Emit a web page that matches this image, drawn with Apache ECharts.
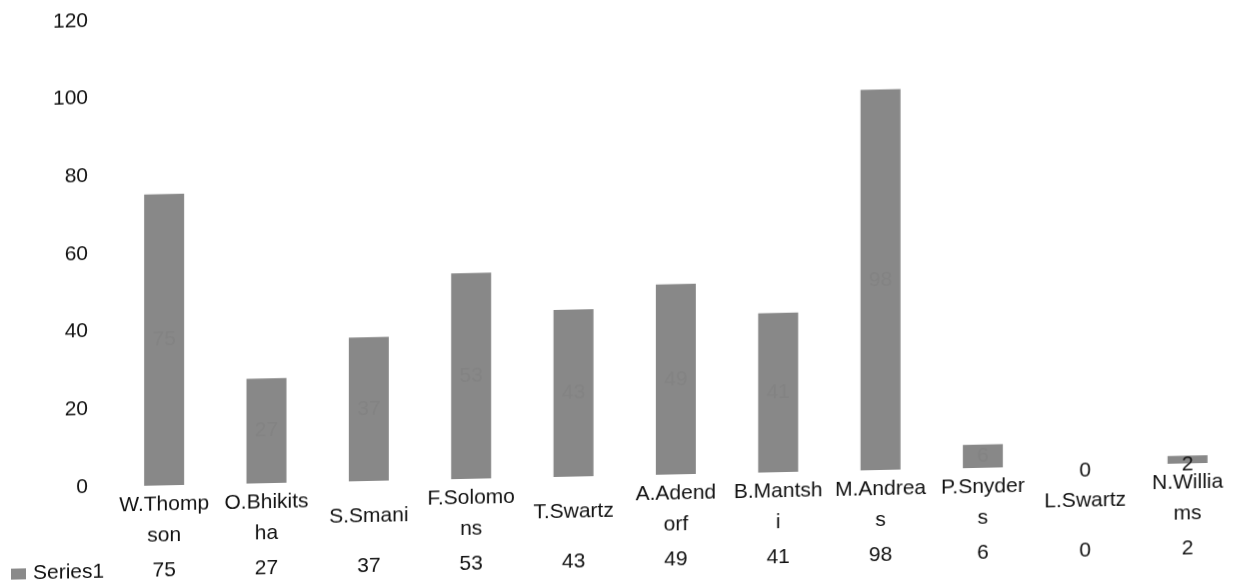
<!DOCTYPE html>
<html>
<head>
<meta charset="utf-8">
<script src="https://cdn.jsdelivr.net/npm/echarts@6/dist/echarts.min.js"></script>
<style>
  html, body { margin: 0; padding: 0; background: #ffffff; }
  #chart {
    width: 1239px; height: 584px;
    transform: skewY(-1.23deg);
    transform-origin: 88px 487px;
  }
</style>
</head>
<body>
<div id="chart"></div>
<script>
const categories = ['W.Thompson', 'O.Bhikitsha', 'S.Smani', 'F.Solomons', 'T.Swartz', 'A.Adendorf', 'B.Mantshi', 'M.Andreas', 'P.Snyders', 'L.Swartz', 'N.Williams'];
const tickLabels = ['W.Thomp\nson', 'O.Bhikits\nha', 'S.Smani', 'F.Solomo\nns', 'T.Swartz', 'A.Adend\norf', 'B.Mantsh\ni', 'M.Andrea\ns', 'P.Snyder\ns', 'L.Swartz', 'N.Willia\nms'];
const series1 = [75, 27, 37, 53, 43, 49, 41, 98, 6, 0, 2];
const seriesName = 'Series1';
const yMin = 0, yMax = 120, yStep = 20;

const FONT = "'Liberation Sans', Arial, sans-serif";
const TEXT = '#111111';
const BAR = '#888888';
const FS = 21;

const chart = echarts.init(document.getElementById('chart'), null, { renderer: 'canvas' });
chart.setOption({
  animation: false,
  backgroundColor: '#ffffff',
  textStyle: { fontFamily: FONT },
  grid: { left: 113, right: 0, top: 21, bottom: 97, containLabel: false },
  legend: {
    data: [seriesName],
    left: 6, top: 557,
    icon: 'rect', itemWidth: 15, itemHeight: 11, itemGap: 10,
    itemStyle: { color: '#8a8a8a' },
    textStyle: { fontSize: FS, color: TEXT, fontFamily: FONT, padding: [0, 0, 0, 2] }
  },
  xAxis: [
    {
      type: 'category', data: categories, position: 'bottom',
      axisLine: { show: false }, axisTick: { show: false }, splitLine: { show: false },
      axisLabel: {
        interval: 0, margin: 35, verticalAlign: 'middle', lineHeight: 31,
        fontSize: FS, color: TEXT, fontFamily: FONT,
        formatter: (v, i) => tickLabels[i]
      }
    },
    {
      type: 'category', data: categories, position: 'bottom', gridIndex: 0,
      axisLine: { show: false }, axisTick: { show: false }, splitLine: { show: false },
      axisLabel: {
        interval: 0, margin: 85, verticalAlign: 'middle',
        fontSize: FS, color: TEXT, fontFamily: FONT,
        formatter: (v, i) => String(series1[i])
      }
    }
  ],
  yAxis: {
    type: 'value', min: yMin, max: yMax, interval: yStep,
    axisLine: { show: false }, axisTick: { show: false }, splitLine: { show: false },
    axisLabel: { fontSize: FS, color: TEXT, margin: 25, fontFamily: FONT }
  },
  series: [{
    name: seriesName,
    type: 'bar',
    xAxisIndex: 0,
    barWidth: 40,
    itemStyle: { color: BAR },
    label: { show: true, position: 'inside', fontSize: FS, color: '#838383', fontFamily: FONT },
    data: series1.map(v => v < 5
      ? { value: v, label: { color: TEXT, offset: [0, 5] } }
      : v)
  }]
});
</script>
</body>
</html>
